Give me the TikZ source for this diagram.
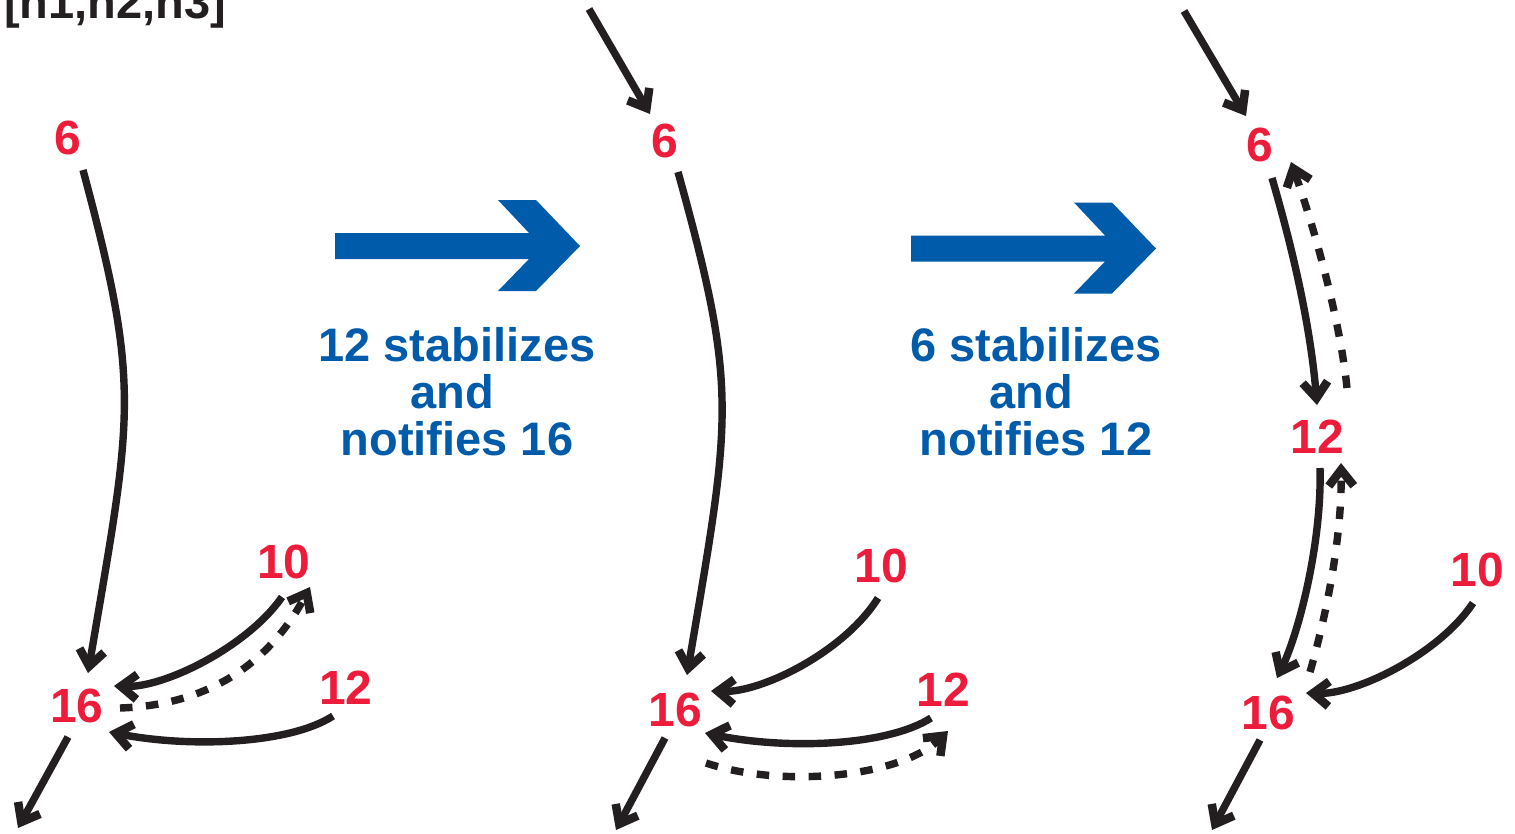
\documentclass[tikz,border=0pt]{standalone}
\usepackage{fontspec}
\setmainfont{Liberation Sans}
\usetikzlibrary{arrows.meta,calc}
\definecolor{nred}{RGB}{237,28,58}
\definecolor{nblue}{RGB}{0,91,170}
\definecolor{nblack}{RGB}{35,31,32}
\begin{document}
\begin{tikzpicture}[x=1pt,y=-1pt,
  num/.style={text=nred,font=\fontsize{48}{48}\selectfont\bfseries,inner sep=0pt},
  note/.style={text=nblue,font=\fontsize{47}{47}\selectfont\bfseries,align=center,inner sep=0pt},
  link/.style={draw=nblack,line width=7.4pt,-{Straight Barb[length=16pt,width=25pt,line width=8.5pt]}},
  notify/.style={link,dash pattern=on 12.5pt off 13.5pt},
  bigarrow/.style={fill=nblue}]
\useasboundingbox (0,0) rectangle (1515,833);
% header
\node[anchor=base west,inner sep=0pt,text=nblack,font=\fontsize{47}{47}\selectfont\bfseries] (hdr) at (4,18) {[n1,n2,n3]};
% nodes
\node[num] (a6) at (68,138) {6};
\node[num] (a16) at (77,706) {16};
\node[num] (a10) at (284,562) {10};
\node[num] (a12) at (346,688) {12};
\node[num] (b6) at (665,141) {6};
\node[num] (b16) at (675,710) {16};
\node[num] (b10) at (881,566) {10};
\node[num] (b12) at (943,690) {12};
\node[num] (c6) at (1260,145) {6};
\node[num] (c12) at (1317,437) {12};
\node[num] (c16) at (1268,713) {16};
\node[num] (c10) at (1477,570) {10};
\coordinate (aout) at (18,828);
\coordinate (bin) at (589,9);
\coordinate (bout) at (616,830);
\coordinate (cin) at (1184,11);
\coordinate (cout) at (1212,830);
% panel 1
\draw[link] ($(a6)+(15,32)$) .. controls (142,390) and (132,413) .. ($(a16)+(11,-33)$);
\draw[link] ($(a10)+(-2,35)$) .. controls (248,646) and (165,688) .. ($(a16)+(37,-20)$);
\draw[notify] ($(a16)+(43,2)$) .. controls (210,705) and (270,662) .. ($(a10)+(26,25)$);
\draw[link] ($(a12)+(-13,28)$) .. controls (290,744) and (190,748) .. ($(a16)+(32,26)$);
\draw[link] ($(a16)+(-9,31)$) -- (aout);
% panel 2
\draw[link] (bin) -- ($(b6)+(-15,-27)$);
\draw[link] ($(b6)+(13,31)$) .. controls (739,392) and (731,415) .. ($(b16)+(12,-35)$);
\draw[link] ($(b10)+(-3,32)$) .. controls (845,651) and (762,693) .. ($(b16)+(36,-19)$);
\draw[link] ($(b12)+(-12,28)$) .. controls (887,746) and (787,750) .. ($(b16)+(30,23)$);
\draw[notify] ($(b16)+(31,53)$) .. controls (780,788) and (900,778) .. ($(b12)+(5,41)$);
\draw[link] ($(b16)+(-10,28)$) -- (bout);
% panel 3
\draw[link] (cin) -- ($(c6)+(-14,-29)$);
\draw[link] ($(c6)+(12,33)$) .. controls (1290,240) and (1310,320) .. ($(c12)+(0,-32)$);
\draw[notify] ($(c12)+(30,-49)$) .. controls (1340,320) and (1315,230) .. ($(c6)+(31,17)$);
\draw[link] ($(c12)+(3,31)$) .. controls (1322,540) and (1300,630) .. ($(c16)+(9,-35)$);
\draw[notify] ($(c16)+(42,-41)$) .. controls (1325,620) and (1342,540) .. ($(c12)+(24,26)$);
\draw[link] ($(c10)+(-4,33)$) .. controls (1440,653) and (1357,695) .. ($(c16)+(38,-20)$);
\draw[link] ($(c16)+(-8,27)$) -- (cout);
% big arrows
\fill[bigarrow] (335,233) -- (529,233) -- (498,200) -- (536,200) -- (580,246) -- (536,291) -- (498,291) -- (529,259) -- (335,259) -- cycle;
\begin{scope}[shift={(576,2.5)}]
\fill[bigarrow] (335,233) -- (529,233) -- (498,200) -- (536,200) -- (580,246) -- (536,291) -- (498,291) -- (529,259) -- (335,259) -- cycle;
\end{scope}
% notes
\node[note] (t1) at (457,392) {12 stabilizes\\and\kern0.2em\null\\notifies 16};
\node[note] (t2) at (1036,392) {6 stabilizes\\and\kern0.2em\null\\notifies 12};
\end{tikzpicture}
\end{document}
